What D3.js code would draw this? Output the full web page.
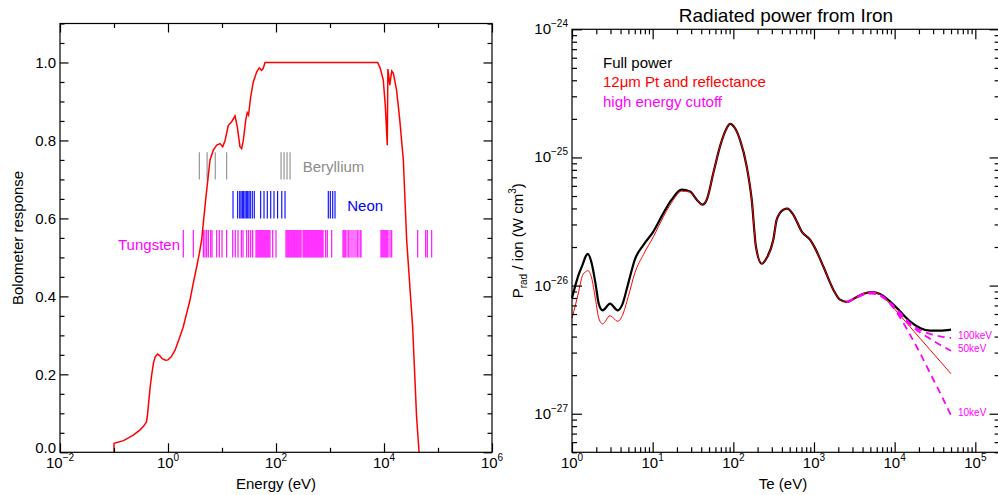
<!DOCTYPE html>
<html><head><meta charset="utf-8">
<script src="https://cdn.jsdelivr.net/npm/d3@7"></script>
<style>
html,body{margin:0;padding:0;background:#fff;}
svg{display:block;font-family:"Liberation Sans",Arial,Helvetica,sans-serif;}
</style></head>
<body>
<svg id="chart" width="998" height="495"></svg>
<script>
// ---------- LEFT PANEL DATA: bolometer response ----------
const bolEnergy = [0.1, 0.1, 0.15, 0.228, 0.3, 0.349, 0.4, 0.42, 0.44, 0.47, 0.5, 0.54, 0.58, 0.64, 0.7, 0.78, 0.9, 1.0, 1.15, 1.35, 1.6, 1.92, 2.2, 2.55, 2.9, 3.4, 3.8, 4.2, 5.0, 6.0, 6.9, 8.0, 9.2, 10.3, 11.4, 13.1, 15.1, 17.4, 19.2, 21.5, 23.1, 24.8, 27.5, 29.4, 31, 34, 38, 44, 49, 54, 58, 62.6, 7640, 8520, 9700, 10600, 11500, 11800, 12800, 13900, 14900, 17100, 19600, 22800, 26300, 33900, 40100, 44600];
const bolResponse = [0, 0.023, 0.03, 0.044, 0.057, 0.066, 0.078, 0.1, 0.13, 0.17, 0.2, 0.23, 0.245, 0.252, 0.248, 0.24, 0.236, 0.237, 0.245, 0.262, 0.29, 0.322, 0.355, 0.39, 0.43, 0.476, 0.51, 0.545, 0.65, 0.75, 0.775, 0.788, 0.792, 0.784, 0.80, 0.839, 0.848, 0.863, 0.835, 0.784, 0.779, 0.80, 0.852, 0.871, 0.865, 0.912, 0.95, 0.976, 0.986, 0.98, 0.985, 1.0, 1.0, 0.985, 0.955, 0.886, 0.788, 0.983, 0.942, 0.978, 0.972, 0.929, 0.852, 0.75, 0.544, 0.322, 0.091, 0];

// spectral line energies (eV)
const berylliumLines = [3.8, 5.3, 7.5, 12.2, 124, 141, 160, 182];
const neonLines = [16, 19.5, 21.3, 22.5, 23.8, 25.2, 26.7, 28.2, 29.9, 31.6, 33.4, 36.4, 39.6, 52, 60, 69, 79.8, 91.8, 107, 128, 147, 930, 1014, 1122, 1239];
const tungstenLines = [1.92, 2.94, 4.51, 4.84, 5.21, 5.58, 6.18, 6.53, 7.98, 8.91, 10.0, 12.2, 15.8, 17.6, 19.8, 22.8, 24.5, 28.7, 31.2, 34.0, 37.0,
  42.6, 44.5, 46.4, 48.4, 50.5, 52.7, 55.0, 57.4, 59.9, 62.5, 65.2, 68.1, 71.0, 74.1, 77.4, 86.9, 100,
  153, 160, 167, 174, 182, 190, 198, 207, 216, 225, 235, 245, 256, 267, 279, 291, 317, 331, 345, 360, 376, 392, 409, 427, 446, 465, 485, 507, 529, 552, 576, 601, 627, 655, 683, 713, 744,
  832, 891, 1075, 1741, 1817, 1896, 1979, 2155, 2249, 2449, 2667, 2905, 3164, 3302, 3596, 3753,
  8797, 9181, 9581, 10000, 10436, 10891, 11366, 11861, 12918, 13890, 42080, 59170, 63390, 76400];
const lineBands = {Be: [0.70, 0.77], Ne: [0.60, 0.67], W: [0.50, 0.57]};

const leftYTicks = [0.0, 0.2, 0.4, 0.6, 0.8, 1.0];
const leftXTicks = [1e-2, 1e0, 1e2, 1e4, 1e6];
const leftXExp = ["−2", "0", "2", "4", "6"];

// ---------- RIGHT PANEL DATA: radiated power from iron ----------
const te = [1.0, 1.1, 1.2, 1.35, 1.5, 1.57, 1.75, 1.95, 2.16, 2.4, 2.96, 3.69, 4.2, 5.0, 6.0, 7.7, 10.2, 13.6, 17.2, 22.9, 29, 35.2, 41.3, 46.8, 56.5, 68.4, 82.7, 91, 105, 121, 146.5, 169, 191, 225, 259, 313, 345, 417, 468, 555, 705, 893, 1030, 1306, 1738, 2100, 2545, 3228, 4090, 5195, 6580, 8750, 11650, 15500, 20600, 27400, 36500, 50000];
const fullPower = [8.0e-27, 1.0e-26, 1.2e-26, 1.45e-26, 1.72e-26, 1.77e-26, 1.50e-26, 1.05e-26, 7.1e-27, 6.41e-27, 7.23e-27, 6.41e-27, 7.1e-27, 1.05e-26, 1.59e-26, 2.08e-26, 2.64e-26, 3.68e-26, 4.68e-26, 5.6e-26, 5.42e-26, 4.68e-26, 4.28e-26, 4.68e-26, 7.55e-26, 1.22e-25, 1.69e-25, 1.83e-25, 1.69e-25, 1.37e-25, 8.5e-26, 4.68e-26, 2.0e-26, 1.48e-26, 1.64e-26, 2.28e-26, 3.27e-26, 3.91e-26, 3.98e-26, 3.57e-26, 2.64e-26, 2.28e-26, 1.96e-26, 1.41e-26, 9.29e-27, 7.76e-27, 7.45e-27, 8.0e-27, 8.64e-27, 8.9e-27, 8.6e-27, 7.53e-27, 6.3e-27, 5.26e-27, 4.67e-27, 4.45e-27, 4.45e-27, 4.53e-27];
const ptPower = [5.58e-27, 7.0e-27, 8.75e-27, 1.2e-26, 1.29e-26, 1.31e-26, 1.15e-26, 7.9e-27, 5.49e-27, 5.02e-27, 5.82e-27, 5.26e-27, 5.82e-27, 8.24e-27, 1.25e-26, 1.75e-26, 2.4e-26, 3.45e-26, 4.45e-26, 5.45e-26, 5.38e-26, 4.68e-26, 4.28e-26, 4.68e-26, 7.55e-26, 1.22e-25, 1.69e-25, 1.83e-25, 1.69e-25, 1.37e-25, 8.5e-26, 4.68e-26, 2.0e-26, 1.48e-26, 1.64e-26, 2.28e-26, 3.27e-26, 3.91e-26, 3.98e-26, 3.57e-26, 2.64e-26, 2.28e-26, 1.96e-26, 1.41e-26, 9.29e-27, 7.76e-27, 7.45e-27, 8.0e-27, 8.64e-27, 8.88e-27, 8.5e-27, 7.19e-27, 5.86e-27, 4.77e-27, 3.88e-27, 3.16e-27, 2.57e-27, 2.05e-27];
const teHigh = [2545, 3228, 4090, 5195, 6580, 8750, 11650, 15500, 20600, 27400, 36500, 50000];
const cutoff100keV = [7.45e-27, 7.98e-27, 8.6e-27, 8.85e-27, 8.5e-27, 7.4e-27, 6.15e-27, 5.1e-27, 4.5e-27, 4.2e-27, 4.02e-27, 3.9e-27];
const cutoff50keV = [7.45e-27, 7.98e-27, 8.58e-27, 8.8e-27, 8.4e-27, 7.25e-27, 5.95e-27, 4.95e-27, 4.3e-27, 3.85e-27, 3.45e-27, 3.1e-27];
const cutoff10keV = [7.4e-27, 7.9e-27, 8.45e-27, 8.65e-27, 8.35e-27, 7.28e-27, 5.64e-27, 4.14e-27, 2.98e-27, 2.08e-27, 1.46e-27, 9.7e-28];
const cutoffLabels = ["100keV", "50keV", "10keV"];

const rightXTicks = [1e0, 1e1, 1e2, 1e3, 1e4, 1e5];
const rightXExp = ["0", "1", "2", "3", "4", "5"];
const rightYTicks = [1e-27, 1e-26, 1e-25, 1e-24];
const rightYExp = ["−27", "−26", "−25", "−24"];
const legendItems = [["Full power", "#000"], ["12μm Pt and reflectance", "#ff0000"], ["high energy cutoff", "#ff00ff"]];

// ---------- DRAWING ----------
const svg = d3.select("#chart");
const FS = 15;

function supLabel(g, x, y, base, exp, anchor, fs, efs, rise) {
  const t = g.append("text").attr("x", x).attr("y", y).attr("text-anchor", anchor)
    .attr("font-size", fs).attr("fill", "#000");
  t.append("tspan").text(base);
  t.append("tspan").attr("dy", -rise).attr("font-size", efs).text(exp);
  return t;
}
function tickAxis(g, axisFn, scale, values, len, transform) {
  const a = axisFn(scale).tickValues(values).tickSizeInner(-len).tickSizeOuter(0).tickFormat("");
  const ag = g.append("g").attr("transform", transform).call(a);
  ag.select(".domain").remove();
  ag.selectAll("line").attr("stroke", "#000").attr("stroke-width", 1.2);
}

// ===== Left panel =====
const L = {x0: 60, x1: 492, y0: 23.5, y1: 452.3};
const xL = d3.scaleLog().domain([1e-2, 1e6]).range([L.x0, L.x1]);
const yL = d3.scaleLinear().domain([0, 1.1]).range([L.y1, L.y0]);
const gL = svg.append("g");

// spectral lines
function drawLines(energies, band, color) {
  gL.append("g").selectAll("line").data(energies).join("line")
    .attr("x1", d => xL(d)).attr("x2", d => xL(d))
    .attr("y1", yL(band[0])).attr("y2", yL(band[1]))
    .attr("stroke", color).attr("stroke-width", 1.1);
}
drawLines(berylliumLines, lineBands.Be, "#8c8c8c");
drawLines(neonLines, lineBands.Ne, "#0000ff");
drawLines(tungstenLines, lineBands.W, "#ff00ff");
gL.append("text").attr("x", xL(312)).attr("y", yL(0.718)).attr("font-size", FS).attr("fill", "#8c8c8c").text("Beryllium");
gL.append("text").attr("x", xL(2090)).attr("y", yL(0.618)).attr("font-size", FS).attr("fill", "#0000ff").text("Neon");
gL.append("text").attr("x", xL(1.67)).attr("y", yL(0.52)).attr("font-size", FS).attr("fill", "#ff00ff").attr("text-anchor", "end").text("Tungsten");

// bolometer curve
const lineL = d3.line().x((d, i) => xL(bolEnergy[i])).y(d => yL(d));
gL.append("path").datum(bolResponse).attr("d", lineL).attr("fill", "none").attr("stroke", "#ff0000").attr("stroke-width", 1.5);

// frame & ticks
gL.append("rect").attr("x", L.x0).attr("y", L.y0).attr("width", L.x1 - L.x0).attr("height", L.y1 - L.y0)
  .attr("fill", "none").attr("stroke", "#000").attr("stroke-width", 1.2);
const lMinorX = [1e-1, 1e1, 1e3, 1e5];
tickAxis(gL, d3.axisBottom, xL, leftXTicks, 9, `translate(0,${L.y1})`);
tickAxis(gL, d3.axisBottom, xL, lMinorX, 4.5, `translate(0,${L.y1})`);
tickAxis(gL, d3.axisTop, xL, leftXTicks, 9, `translate(0,${L.y0})`);
tickAxis(gL, d3.axisTop, xL, lMinorX, 4.5, `translate(0,${L.y0})`);
const lMinorY = d3.range(0, 23).map(i => i * 0.05).filter(v => Math.abs(v * 5 - Math.round(v * 5)) > 1e-6);
tickAxis(gL, d3.axisLeft, yL, leftYTicks, 8.5, `translate(${L.x0},0)`);
tickAxis(gL, d3.axisLeft, yL, lMinorY, 4.5, `translate(${L.x0},0)`);
tickAxis(gL, d3.axisRight, yL, leftYTicks, 8.5, `translate(${L.x1},0)`);
tickAxis(gL, d3.axisRight, yL, lMinorY, 4.5, `translate(${L.x1},0)`);

leftYTicks.forEach(v => {
  const dy = v === 0 ? 1 : 5.5;  // bottom label sits raised, as in the original
  gL.append("text").attr("x", 56).attr("y", yL(v) + dy).attr("text-anchor", "end").attr("font-size", FS).text(v.toFixed(1));
});
leftXTicks.forEach((v, i) => supLabel(gL, xL(v), 468, "10", leftXExp[i], "middle", FS, 10, 7));
gL.append("text").attr("x", (L.x0 + L.x1) / 2).attr("y", 489).attr("text-anchor", "middle").attr("font-size", FS).text("Energy (eV)");
gL.append("text").attr("transform", `translate(23,${(L.y0 + L.y1) / 2}) rotate(-90)`).attr("text-anchor", "middle").attr("font-size", FS).text("Bolometer response");

// ===== Right panel =====
const R = {x0: 572, x1: 999.6, y0: 29.3, y1: 452.3};
const xR = d3.scaleLog().domain([1, 2e5]).range([R.x0, R.x1]);
const yR = d3.scaleLog().domain([5e-28, 1e-24]).range([R.y1, R.y0]);
const gR = svg.append("g");

const lineTe = d3.line().curve(d3.curveMonotoneX).x((d, i) => xR(te[i])).y(d => yR(d));
const lineHigh = d3.line().curve(d3.curveMonotoneX).x((d, i) => xR(teHigh[i])).y(d => yR(d));
gR.append("path").datum(fullPower).attr("d", lineTe).attr("fill", "none").attr("stroke", "#000").attr("stroke-width", 2.2);
gR.append("path").datum(ptPower).attr("d", lineTe).attr("fill", "none").attr("stroke", "#ff0000").attr("stroke-width", 1);
[cutoff100keV, cutoff50keV, cutoff10keV].forEach((s, k) => {
  gR.append("path").datum(s).attr("d", lineHigh).attr("fill", "none").attr("stroke", "#ff00ff")
    .attr("stroke-width", 1.8).attr("stroke-dasharray", "7,5");
  gR.append("text").attr("x", 958).attr("y", yR(s[s.length - 1]) + 1).attr("font-size", 10).attr("fill", "#ff00ff").text(cutoffLabels[k]);
});

gR.append("rect").attr("x", R.x0).attr("y", R.y0).attr("width", R.x1 - R.x0).attr("height", R.y1 - R.y0)
  .attr("fill", "none").attr("stroke", "#000").attr("stroke-width", 1.2);
const rMinorX = [];
[1, 10, 100, 1000, 10000, 100000].forEach(d => { for (let m = 2; m <= 9; m++) if (d * m <= 2e5) rMinorX.push(d * m); });
const rMinorY = [];
[1e-28, 1e-27, 1e-26, 1e-25].forEach(d => { for (let m = 2; m <= 9; m++) { const v = d * m; if (v >= 5e-28 && v < 1e-24) rMinorY.push(v); } });
tickAxis(gR, d3.axisBottom, xR, rightXTicks, 10, `translate(0,${R.y1})`);
tickAxis(gR, d3.axisBottom, xR, rMinorX, 5, `translate(0,${R.y1})`);
tickAxis(gR, d3.axisTop, xR, rightXTicks, 10, `translate(0,${R.y0})`);
tickAxis(gR, d3.axisTop, xR, rMinorX, 5, `translate(0,${R.y0})`);
tickAxis(gR, d3.axisLeft, yR, rightYTicks, 10, `translate(${R.x0},0)`);
tickAxis(gR, d3.axisLeft, yR, rMinorY, 5, `translate(${R.x0},0)`);
tickAxis(gR, d3.axisRight, yR, rightYTicks, 10, `translate(${R.x1},0)`);
tickAxis(gR, d3.axisRight, yR, rMinorY, 5, `translate(${R.x1},0)`);

rightXTicks.forEach((v, i) => supLabel(gR, xR(v), 468.3, "10", rightXExp[i], "middle", FS, 10, 7));
rightYTicks.forEach((v, i) => supLabel(gR, 568, yR(v) + 5, "10", rightYExp[i], "end", FS, 10, 7));

gR.append("text").attr("x", 783).attr("y", 489).attr("text-anchor", "middle").attr("font-size", FS).text("Te (eV)");
gR.append("text").attr("x", 786).attr("y", 21.5).attr("text-anchor", "middle").attr("font-size", 19).text("Radiated power from Iron");
const yl = gR.append("text").attr("transform", `translate(523,${(R.y0 + R.y1) / 2}) rotate(-90)`).attr("text-anchor", "middle").attr("font-size", FS);
yl.append("tspan").text("P");
yl.append("tspan").attr("dy", 4).attr("font-size", 10).text("rad");
yl.append("tspan").attr("dy", -4).text(" / ion (W cm");
yl.append("tspan").attr("dy", -7).attr("font-size", 10).text("3");
yl.append("tspan").attr("dy", 7).text(")");

legendItems.forEach((d, i) => {
  gR.append("text").attr("x", 603).attr("y", 67.5 + i * 19.5).attr("font-size", FS).attr("fill", d[1]).text(d[0]);
});
</script>
</body></html>
